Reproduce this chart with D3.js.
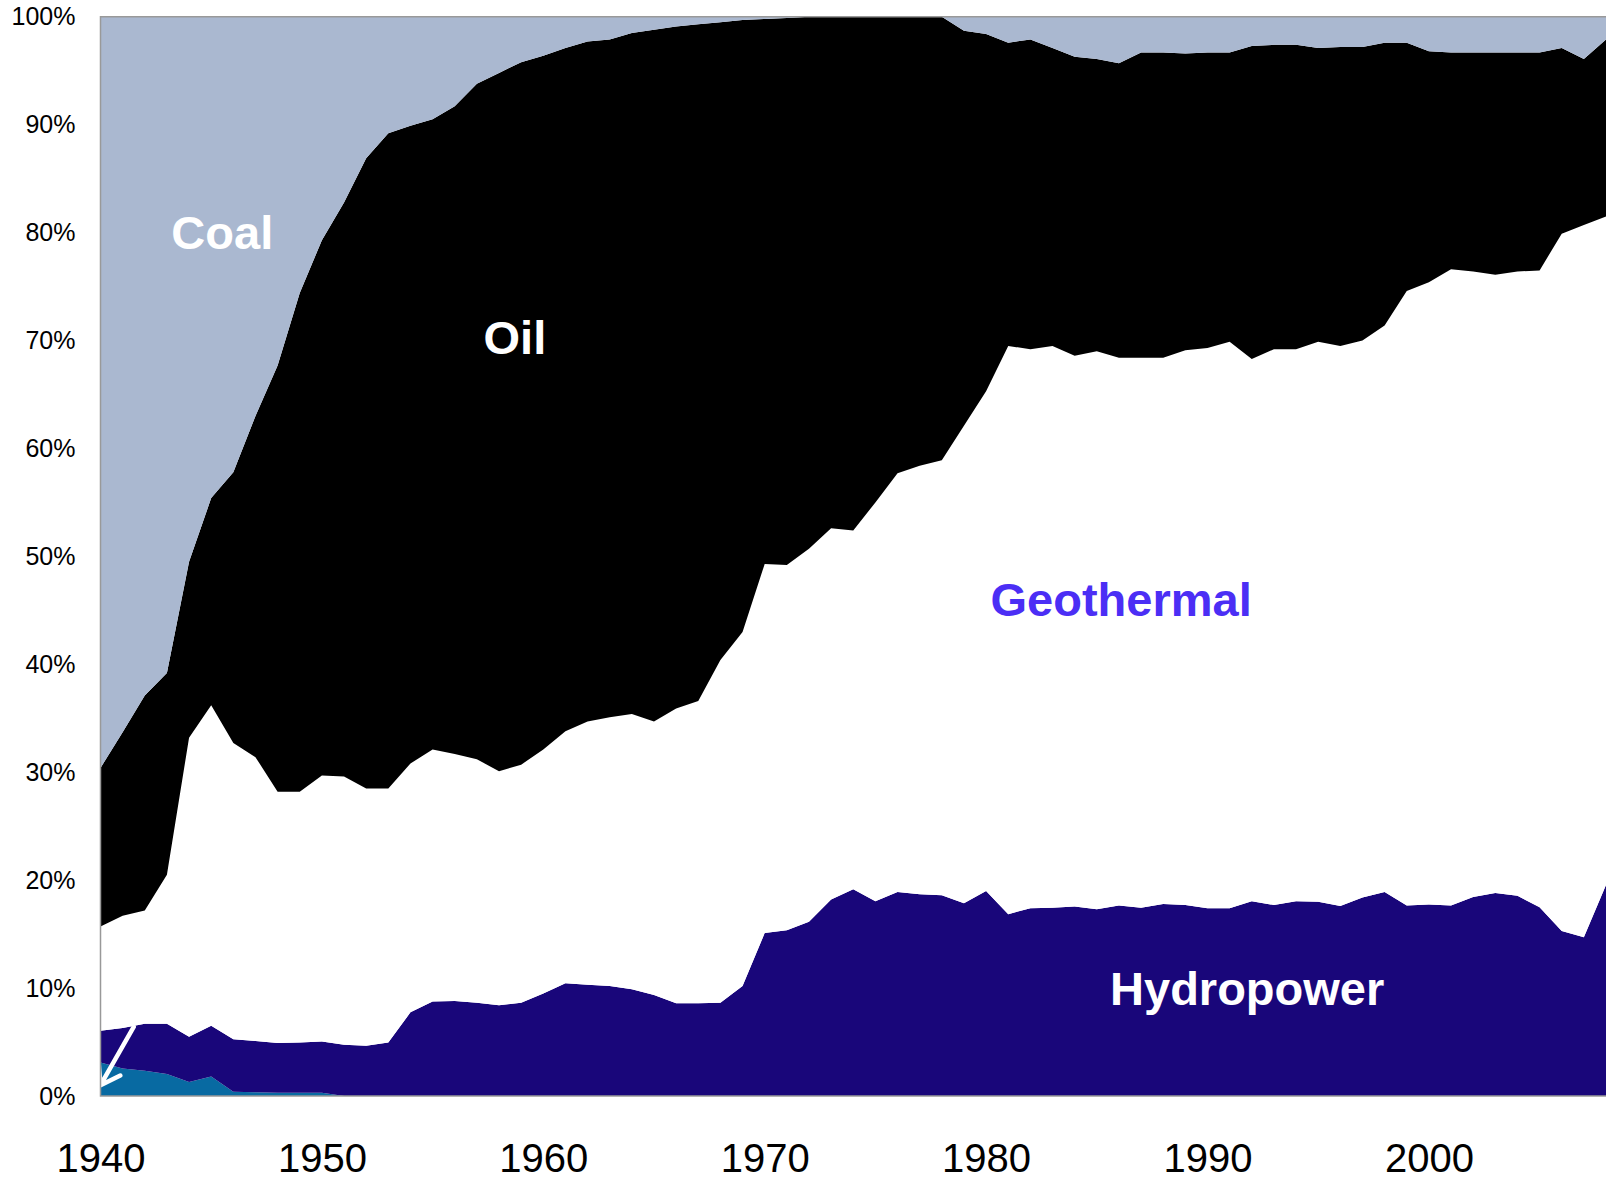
<!DOCTYPE html>
<html>
<head>
<meta charset="utf-8">
<script src="https://cdn.jsdelivr.net/npm/d3@7"></script>
<style>
  body { margin: 0; background: #fff; }
  svg { display: block; font-family: "Liberation Sans", Arial, sans-serif; }
</style>
</head>
<body>
<svg id="chart" width="1606" height="1179"></svg>
<script>
// shares of primary energy, percent
var years = d3.range(1940, 2009);

var peat = [3.1, 2.55, 2.35, 2.05, 1.3, 1.8, 0.4, 0.35, 0.3, 0.3,
  0.3, 0, 0, 0, 0, 0, 0, 0, 0, 0,
  0, 0, 0, 0, 0, 0, 0, 0, 0, 0,
  0, 0, 0, 0, 0, 0, 0, 0, 0, 0,
  0, 0, 0, 0, 0, 0, 0, 0, 0, 0,
  0, 0, 0, 0, 0, 0, 0, 0, 0, 0,
  0, 0, 0, 0, 0, 0, 0, 0, 0];

var hydro = [2.95, 3.75, 4.35, 4.65, 4.2, 4.7, 4.85, 4.75, 4.6, 4.65,
  4.75, 4.75, 4.65, 4.95, 7.75, 8.75, 8.8, 8.65, 8.4, 8.65,
  9.5, 10.45, 10.3, 10.2, 9.9, 9.35, 8.6, 8.6, 8.65, 10.2,
  15.1, 15.35, 16.15, 18.2, 19.15, 18.05, 18.9, 18.7, 18.6, 17.85,
  19.0, 16.85, 17.4, 17.45, 17.55, 17.3, 17.65, 17.45, 17.8, 17.7,
  17.4, 17.4, 18.05, 17.7, 18.05, 18.0, 17.6, 18.4, 18.9, 17.65,
  17.75, 17.65, 18.45, 18.8, 18.55, 17.5, 15.3, 14.7, 19.55];

var geothermal = [9.65, 10.4, 10.5, 13.8, 27.7, 29.7, 27.45, 26.3, 23.3, 23.25,
  24.65, 24.85, 23.85, 23.55, 23.05, 23.35, 22.9, 22.55, 21.7, 22.05,
  22.6, 23.35, 24.4, 24.9, 25.5, 25.35, 27.3, 28.0, 31.75, 32.8,
  34.2, 33.85, 34.55, 34.4, 33.25, 36.95, 38.8, 39.7, 40.3, 44.25,
  46.3, 52.65, 51.8, 52.05, 51.05, 51.7, 50.75, 50.95, 50.6, 51.4,
  51.9, 52.5, 50.25, 51.5, 51.15, 51.9, 51.9, 51.6, 52.5, 56.95,
  57.65, 58.95, 57.95, 57.3, 57.85, 59.0, 64.6, 66.0, 61.95];

var oil = [14.7, 17.0, 19.9, 18.7, 16.3, 19.2, 25.1, 31.6, 39.5, 46.2,
  49.6, 53.2, 58.4, 60.7, 59.1, 58.4, 60.0, 62.6, 64.7, 65.1,
  64.3, 63.3, 63.0, 62.8, 63.1, 64.1, 63.2, 62.7, 59.1, 56.7,
  50.5, 50.7, 49.3, 47.4, 47.6, 45.0, 42.3, 41.6, 41.1, 36.6,
  33.1, 28.1, 28.7, 27.6, 27.7, 27.1, 27.3, 28.3, 28.3, 27.5,
  27.4, 26.8, 29.0, 28.2, 28.2, 27.2, 27.7, 27.2, 26.2, 23.0,
  21.4, 20.1, 20.3, 20.6, 20.3, 20.2, 17.2, 15.4, 16.4];

var coal = [69.6, 66.3, 62.9, 60.8, 50.5, 44.6, 42.2, 37.0, 32.3, 25.6,
  20.7, 17.2, 13.1, 10.8, 10.1, 9.5, 8.3, 6.2, 5.2, 4.2,
  3.6, 2.9, 2.3, 2.1, 1.5, 1.2, 0.9, 0.7, 0.5, 0.3,
  0.2, 0.1, 0, 0, 0, 0, 0, 0, 0, 1.3,
  1.6, 2.4, 2.1, 2.9, 3.7, 3.9, 4.3, 3.3, 3.3, 3.4,
  3.3, 3.3, 2.7, 2.6, 2.6, 2.9, 2.8, 2.8, 2.4, 2.4,
  3.2, 3.3, 3.3, 3.3, 3.3, 3.3, 2.9, 3.9, 2.1];

var keys = ["peat", "hydro", "geothermal", "oil", "coal"];
var colors = { peat: "#086aa2", hydro: "#19067a", geothermal: "#ffffff", oil: "#000000", coal: "#aab8d0" };
var yTicks = [0, 10, 20, 30, 40, 50, 60, 70, 80, 90, 100];
var xTicks = [1940, 1950, 1960, 1970, 1980, 1990, 2000];

(function() {
  var table = years.map(function(yr, i) {
    return { year: yr, peat: peat[i], hydro: hydro[i], geothermal: geothermal[i], oil: oil[i], coal: coal[i] };
  });

  var pLeft = 100.5, pTop = 16.8, pRight = 1606, pBottom = 1096;

  var svg = d3.select("#chart");

  var x = d3.scaleLinear().domain([1940, 2008]).range([pLeft, pRight]);
  var y = d3.scaleLinear().domain([0, 100]).range([pBottom, pTop]);

  var series = d3.stack().keys(keys)(table);

  var area = d3.area()
    .x(function(d) { return x(d.data.year); })
    .y0(function(d) { return y(d[0]); })
    .y1(function(d) { return y(Math.min(100, d[1])); });

  svg.append("defs").append("clipPath").attr("id", "plot")
    .append("rect").attr("x", pLeft).attr("y", pTop)
    .attr("width", pRight - pLeft).attr("height", pBottom - pTop);

  var g = svg.append("g").attr("clip-path", "url(#plot)");

  g.selectAll("path.layer")
    .data(series)
    .enter().append("path")
    .attr("class", "layer")
    .attr("fill", function(d) { return colors[d.key]; })
    .attr("d", area);

  // frame
  svg.append("path")
    .attr("d", "M" + pRight + "," + pTop + "H" + pLeft + "V" + pBottom + "H" + pRight)
    .attr("fill", "none")
    .attr("stroke", "#999")
    .attr("stroke-width", 1.5);

  // y axis labels
  var yAxis = d3.axisLeft(y).tickValues(yTicks).tickSize(0).tickPadding(25)
    .tickFormat(function(d) { return d + "%"; });
  svg.append("g")
    .attr("transform", "translate(" + pLeft + ",0)")
    .call(yAxis)
    .call(function(s) {
      s.select(".domain").remove();
      s.selectAll("text").attr("font-size", 25).attr("fill", "#000")
        .attr("font-family", "Liberation Sans, Arial, sans-serif");
    });

  // x axis labels
  var xAxis = d3.axisBottom(x).tickValues(xTicks).tickSize(0).tickPadding(48)
    .tickFormat(d3.format("d"));
  svg.append("g")
    .attr("transform", "translate(0," + pBottom + ")")
    .call(xAxis)
    .call(function(s) {
      s.select(".domain").remove();
      s.selectAll("text").attr("font-size", 40).attr("fill", "#000")
        .attr("font-family", "Liberation Sans, Arial, sans-serif");
    });

  // series labels
  var labels = [
    { text: "Coal", year: 1943.2, pct: 78.5, color: "#ffffff" },
    { text: "Oil", year: 1957.3, pct: 68.8, color: "#ffffff" },
    { text: "Geothermal", year: 1980.2, pct: 44.5, color: "#4b2ef5" },
    { text: "Hydropower", year: 1985.6, pct: 8.4, color: "#ffffff" }
  ];
  svg.selectAll("text.lbl")
    .data(labels)
    .enter().append("text")
    .attr("class", "lbl")
    .attr("x", function(d) { return x(d.year); })
    .attr("y", function(d) { return y(d.pct); })
    .attr("font-size", 47)
    .attr("font-weight", "bold")
    .attr("fill", function(d) { return d.color; })
    .text(function(d) { return d.text; });

  // arrow to the peat layer
  var tip = [x(1940), y(1.0)];
  var tail = [x(1941.5), y(6.4)];
  var ang = Math.atan2(tail[1] - tip[1], tail[0] - tip[0]);
  var barb = 22, spread = 0.6;
  var b1 = [tip[0] + barb * Math.cos(ang + spread), tip[1] + barb * Math.sin(ang + spread)];
  var b2 = [tip[0] + barb * Math.cos(ang - spread), tip[1] + barb * Math.sin(ang - spread)];
  g.append("path")
    .attr("d", "M" + tail + "L" + tip + "M" + b1 + "L" + tip + "L" + b2)
    .attr("fill", "none")
    .attr("stroke", "#fff")
    .attr("stroke-width", 4.5)
    .attr("stroke-linecap", "round")
    .attr("stroke-linejoin", "round");
})();
</script>
</body>
</html>
